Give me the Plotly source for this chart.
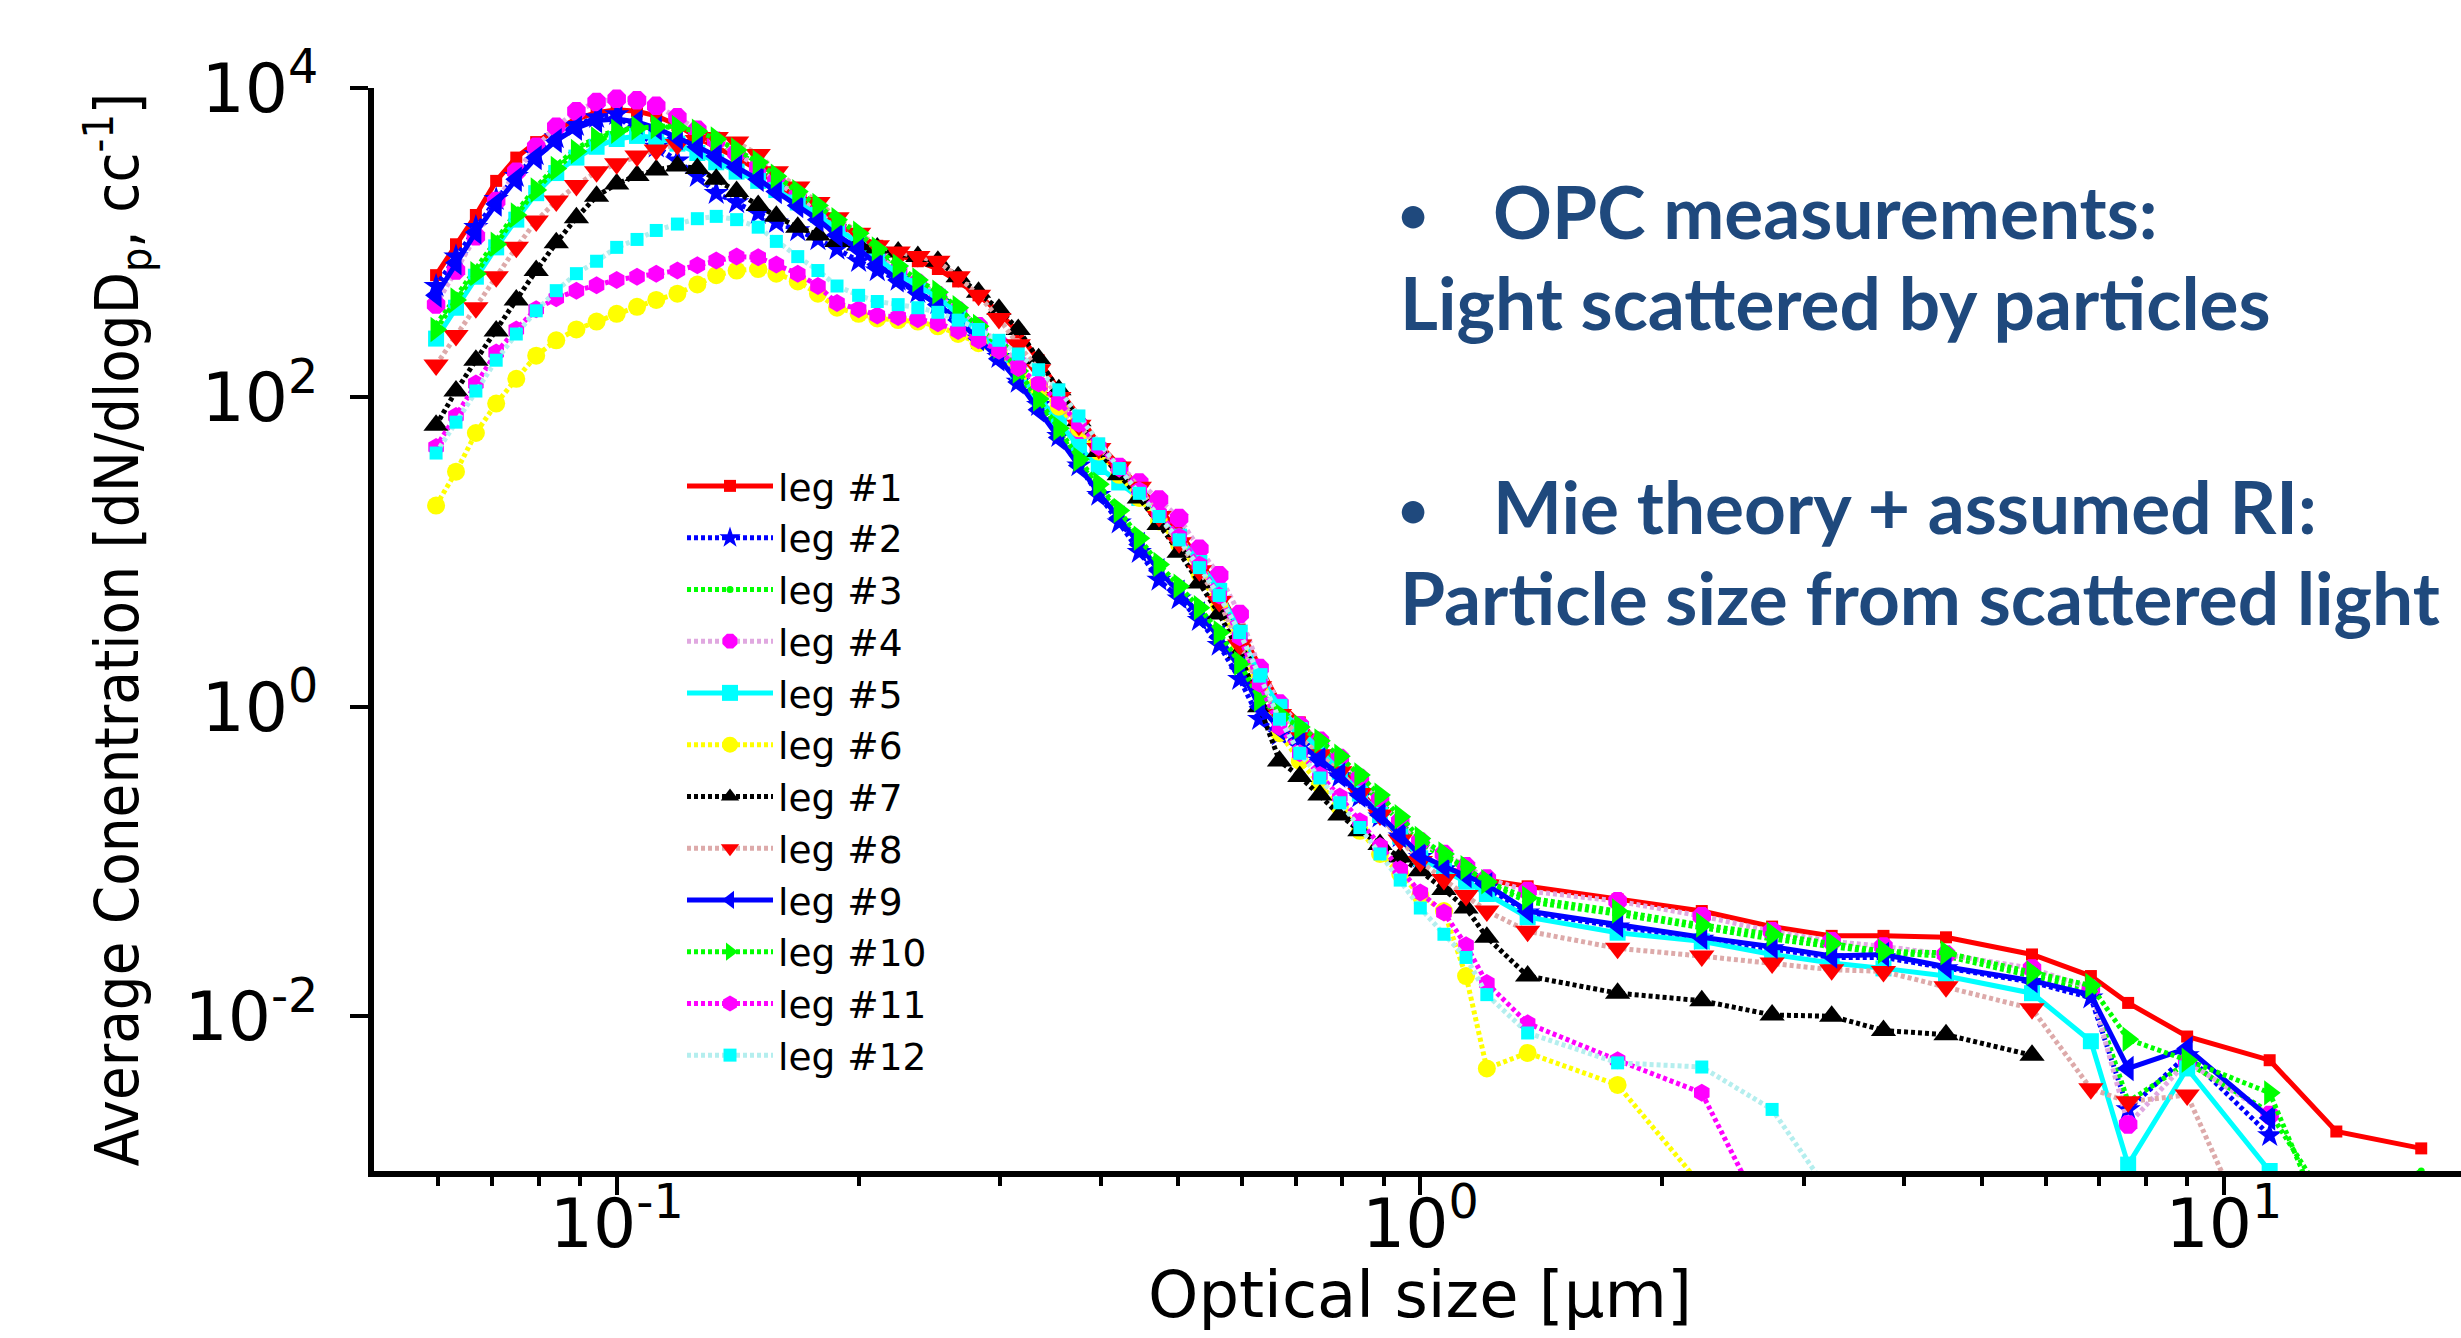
import plotly.graph_objects as go

# ---------------- data ----------------
size_um = [0.0596, 0.0631, 0.0668, 0.0708, 0.0750, 0.0794, 0.0841, 0.0891, 0.0944, 0.100,
           0.106, 0.112, 0.119, 0.126, 0.133, 0.141, 0.150, 0.158, 0.168, 0.178,
           0.188, 0.200, 0.211, 0.224, 0.237, 0.251, 0.266, 0.282, 0.299, 0.316,
           0.335, 0.355, 0.376, 0.398, 0.422, 0.447, 0.473, 0.501, 0.531, 0.562,
           0.596, 0.631, 0.668, 0.708, 0.750, 0.794, 0.841, 0.891, 0.944, 1.000,
           1.07, 1.14, 1.21, 1.36, 1.76, 2.24, 2.74, 3.25, 3.77, 4.51,
           5.77, 6.83, 7.60, 9.00, 11.4, 13.8, 17.6]

leg1 = [617, 977, 1510, 2510, 3550, 4470, 5370, 6310, 6920, 7240,
        7080, 6610, 5750, 4790, 4170, 3550, 2950, 2400, 1950, 1580,
        1320, 1100, 955, 832, 759, 676, 562, 457, 355, 263,
        174, 112, 75.9, 50.1, 36.3, 26.3, 19.1, 13.5, 8.91, 5.62,
        3.16, 1.78, 1.05, 0.794, 0.575, 0.417, 0.288, 0.200, 0.141, 0.105,
        0.0912, 0.0832, 0.0759, 0.0692, 0.0569, 0.0479, 0.0380, 0.0331, 0.0331, 0.0324,
        0.0251, 0.0182, 0.0122, 0.0074, 0.0052, 0.0018, 0.0014]

leg2 = [525, 813, 1260, 1910, 2690, 3720, 4790, 5750, 6460, 6760,
        5250, 4170, 3390, 2690, 2090, 1820, 1550, 1350, 1200, 1050,
        912, 759, 661, 575, 479, 407, 316, 240, 182, 126,
        89.1, 56.2, 36.3, 23.4, 15.5, 10.0, 6.61, 5.01, 3.63, 2.51,
        1.51, 0.832, 0.661, 0.550, 0.447, 0.355, 0.263, 0.195, 0.145, 0.107,
        0.0891, 0.0794, 0.0676, 0.0468, 0.0380, 0.0316, 0.0275, 0.0240, 0.0240, 0.0204,
        0.0166, 0.0132, 0.0025, 0.0056, 0.0017, None, None]

leg3 = [295, 447, 661, 1020, 1580, 2290, 3160, 4070, 4790, 5370,
        5560, 5690, 5620, 5250, 4570, 3800, 3240, 2570, 2040, 1660,
        1380, 1120, 871, 661, 550, 468, 380, 282, 209, 141,
        93.3, 60.3, 38.0, 26.3, 17.4, 11.5, 7.59, 5.50, 3.98, 2.82,
        1.78, 1.05, 0.832, 0.692, 0.550, 0.437, 0.331, 0.245, 0.178, 0.132,
        0.107, 0.0891, 0.0724, 0.0550, 0.0457, 0.0372, 0.0316, 0.0282, 0.0257, 0.0245,
        0.0182, 0.0148, 0.0028, 0.0050, 0.0024, 0.0005, 0.0010]

leg4 = [398, 661, 1100, 1860, 2880, 4170, 5620, 7080, 8130, 8510,
        8320, 7670, 6460, 5370, 4570, 3800, 3090, 2510, 2000, 1580,
        1260, 1000, 813, 661, 550, 457, 363, 288, 224, 166,
        117, 83.2, 60.3, 44.7, 35.5, 28.2, 21.9, 16.6, 10.5, 7.08,
        3.98, 1.78, 1.05, 0.759, 0.603, 0.468, 0.347, 0.251, 0.182, 0.135,
        0.112, 0.0933, 0.0776, 0.0646, 0.0555, 0.0444, 0.0355, 0.0305, 0.0283, 0.0251,
        0.0204, 0.0151, 0.0020, 0.0051, 0.0023, None, None]

leg5 = [240, 380, 603, 933, 1410, 2090, 2820, 3550, 4170, 4680,
        4900, 4790, 4370, 3800, 3310, 2880, 2510, 2190, 1820, 1510,
        1230, 1000, 794, 631, 525, 447, 347, 263, 200, 145,
        100, 69.2, 47.9, 35.5, 28.2, 22.4, 16.6, 12.6, 8.51, 5.62,
        3.02, 1.58, 1.00, 0.708, 0.525, 0.380, 0.275, 0.200, 0.145, 0.105,
        0.0871, 0.0741, 0.0617, 0.0437, 0.0347, 0.0305, 0.0251, 0.0221, 0.0204, 0.0182,
        0.0141, 0.0069, 0.0011, 0.0046, 0.0010, None, None]

leg6 = [20.0, 33.1, 58.9, 91.2, 132, 186, 234, 275, 309, 347,
        385, 427, 468, 537, 617, 661, 676, 631, 562, 468,
        380, 347, 324, 316, 309, 288, 257, 224, 191, 148,
        115, 87.1, 63.1, 44.7, 31.6, 22.4, 15.8, 11.2, 7.24, 4.47,
        2.40, 1.26, 0.676, 0.447, 0.316, 0.224, 0.158, 0.112, 0.0832, 0.0603,
        0.0479, 0.0182, 0.0046, 0.0058, 0.0036, 0.0008, None, None, None, None,
        None, None, None, None, None, None, None]

leg7 = [66.1, 110, 174, 269, 427, 661, 1000, 1450, 2000, 2400,
        2720, 2950, 3130, 3020, 2570, 2140, 1740, 1480, 1260, 1120,
        1020, 966, 923, 871, 813, 759, 603, 479, 372, 275,
        178, 112, 70.8, 44.7, 31.6, 22.4, 15.1, 10.0, 6.31, 3.98,
        2.24, 1.00, 0.447, 0.355, 0.269, 0.200, 0.158, 0.129, 0.107, 0.0871,
        0.0661, 0.0501, 0.0324, 0.0182, 0.0141, 0.0126, 0.0102, 0.0100, 0.0081, 0.0076,
        0.0056, None, None, None, None, None, None]

leg8 = [162, 251, 380, 603, 933, 1380, 1860, 2340, 2880, 3240,
        3630, 3980, 4320, 4570, 4790, 4470, 3720, 2880, 2290, 1820,
        1450, 1150, 955, 871, 813, 759, 603, 457, 324, 219,
        151, 100, 66.1, 46.8, 35.5, 26.3, 17.0, 11.5, 7.59, 4.79,
        2.51, 1.35, 0.891, 0.631, 0.490, 0.380, 0.275, 0.200, 0.138, 0.100,
        0.0766, 0.0603, 0.0479, 0.0355, 0.0275, 0.0245, 0.0221, 0.0200, 0.0195, 0.0155,
        0.0112, 0.0034, 0.0028, 0.0031, 0.0002, None, None]

leg9 = [457, 741, 1170, 1780, 2570, 3550, 4570, 5500, 6170, 6310,
        6030, 5500, 4790, 4170, 3630, 3090, 2570, 2140, 1740, 1410,
        1120, 912, 724, 575, 479, 398, 316, 240, 178, 126,
        83.2, 55.0, 36.3, 24.0, 16.6, 11.2, 7.59, 5.50, 3.98, 2.82,
        1.78, 1.00, 0.724, 0.575, 0.457, 0.363, 0.269, 0.200, 0.148, 0.110,
        0.0933, 0.0813, 0.0708, 0.0479, 0.0389, 0.0324, 0.0282, 0.0245, 0.0251, 0.0209,
        0.0170, 0.0138, 0.0046, 0.0062, 0.0022, None, None]

leg10 = [275, 427, 631, 977, 1510, 2190, 3020, 3890, 4680, 5250,
         5500, 5620, 5560, 5250, 4680, 3980, 3310, 2690, 2140, 1740,
         1410, 1150, 912, 708, 575, 479, 380, 288, 214, 148,
         97.7, 63.1, 39.8, 27.5, 18.6, 12.3, 8.32, 6.03, 4.37, 3.02,
         1.91, 1.12, 0.891, 0.741, 0.603, 0.479, 0.363, 0.269, 0.195, 0.141,
         0.112, 0.0912, 0.0741, 0.0582, 0.0479, 0.0389, 0.0339, 0.0295, 0.0263, 0.0257,
         0.0191, 0.0158, 0.0071, 0.0052, 0.0032, 0.0003, None]

leg11 = [47.9, 75.9, 123, 195, 275, 372, 437, 490, 531, 575,
         603, 631, 661, 716, 767, 813, 804, 724, 631, 525,
         407, 372, 339, 331, 320, 302, 269, 234, 200, 155,
         123, 93.3, 67.6, 47.9, 34.7, 25.1, 17.8, 12.6, 8.32, 5.25,
         2.82, 1.41, 0.741, 0.501, 0.363, 0.263, 0.182, 0.126, 0.0891, 0.0631,
         0.0468, 0.0288, 0.0164, 0.0090, 0.0052, 0.0032, 0.0004, None, None, None,
         None, None, None, None, None, None, None]

leg12 = [43.7, 69.2, 110, 174, 257, 363, 490, 631, 759, 933,
         1050, 1200, 1320, 1430, 1480, 1410, 1260, 1020, 813, 661,
         525, 457, 417, 398, 380, 355, 316, 275, 234, 191,
         151, 112, 75.9, 50.1, 34.7, 24.0, 17.0, 12.0, 7.94, 5.25,
         3.02, 1.58, 0.832, 0.501, 0.347, 0.240, 0.166, 0.112, 0.0759, 0.0501,
         0.0339, 0.0240, 0.0138, 0.0078, 0.0050, 0.0047, 0.0025, 0.00069, None, None,
         None, None, None, None, None, None, None]

series_names = ["leg #1", "leg #2", "leg #3", "leg #4", "leg #5", "leg #6",
                "leg #7", "leg #8", "leg #9", "leg #10", "leg #11", "leg #12"]
series_values = [leg1, leg2, leg3, leg4, leg5, leg6, leg7, leg8, leg9, leg10, leg11, leg12]

x_tick_values = [0.1, 1, 10]
x_tick_labels = ["10<sup>-1</sup>", "10<sup>0</sup>", "10<sup>1</sup>"]
x_minor_values = [0.06, 0.07, 0.08, 0.09, 0.2, 0.3, 0.4, 0.5, 0.6, 0.7, 0.8, 0.9,
                  2, 3, 4, 5, 6, 7, 8, 9]
y_tick_values = [0.01, 1, 100, 10000]
y_tick_labels = ["10<sup>-2</sup>", "10<sup>0</sup>", "10<sup>2</sup>", "10<sup>4</sup>"]

note_lines = ["OPC measurements:", "Light scattered by particles",
              "Mie theory + assumed RI:", "Particle size from scattered light"]

# ---------------- styles ----------------
line_colors = ["#FF0000", "#0000FF", "#00FF00", "#E0A8E0", "#00FFFF", "#FFFF00",
               "#000000", "#DDAAAA", "#0000FF", "#00FF00", "#FF00FF", "#B4EEEE"]
line_dash = ["solid", "4px,3px", "4px,3px", "4px,3px", "solid", "4px,3px",
             "4px,3px", "4px,3px", "solid", "4px,3px", "4px,3px", "4px,3px"]
marker_colors = ["#FF0000", "#0000FF", "#00FF00", "#FF00FF", "#00FFFF", "#FFFF00",
                 "#000000", "#FF0000", "#0000FF", "#00FF00", "#FF00FF", "#00FFFF"]
marker_symbols = ["square", "star", "circle", "octagon", "square", "circle",
                  "triangle-up", "triangle-down", "triangle-left", "triangle-right",
                  "hexagon", "square"]
marker_sizes = [12, 19, 7, 20, 16, 18, 22, 22, 22, 22, 18, 13]

for v in series_values:
    assert len(v) == len(size_um), len(v)

fig = go.Figure()
for i, (name, vals) in enumerate(zip(series_names, series_values)):
    fig.add_trace(go.Scatter(
        x=size_um, y=vals, name=name, mode="lines+markers",
        line=dict(color=line_colors[i], width=5, dash=line_dash[i]),
        marker=dict(symbol=marker_symbols[i], size=marker_sizes[i],
                    color=marker_colors[i], line=dict(width=0)),
    ))

W, H = 2461, 1338
L, R, T, B = 374, 0, 88, 167
pw, ph = W - L - R, H - T - B

def px(xpix):
    return (xpix - L) / pw

def py(ypix):
    return (H - B - ypix) / ph

tick_font = dict(family="DejaVu Sans", size=68, color="black")

fig.update_layout(
    width=W, height=H,
    margin=dict(l=L, r=R, t=T, b=B, pad=0),
    paper_bgcolor="white", plot_bgcolor="white",
    showlegend=True,
    legend=dict(x=px(682), y=py(455), xanchor="left", yanchor="top",
                bgcolor="rgba(0,0,0,0)", borderwidth=0,
                font=dict(family="DejaVu Sans", size=37.5, color="black"),
                itemwidth=86, tracegroupgap=0),
    xaxis=dict(type="log", range=[-1.302, 1.295], showgrid=False, zeroline=False,
               showline=True, linecolor="black", linewidth=6, mirror=False,
               tickvals=x_tick_values, ticktext=x_tick_labels,
               ticks="outside", ticklen=18, tickwidth=4, tickcolor="black",
               tickfont=tick_font, ticklabelstandoff=-30,
               minor=dict(tickvals=x_minor_values, ticks="outside", ticklen=9,
                          tickwidth=4, tickcolor="black", showgrid=False)),
    yaxis=dict(type="log", range=[-3, 4], showgrid=False, zeroline=False,
               showline=True, linecolor="black", linewidth=6, mirror=False,
               tickvals=y_tick_values, ticktext=y_tick_labels,
               ticks="outside", ticklen=18, tickwidth=4, tickcolor="black",
               tickfont=tick_font, ticklabelstandoff=18),
)

# axis titles
fig.add_annotation(text="Optical size [\u03bcm]", xref="paper", yref="paper",
                   x=px(1420), y=py(1295), xanchor="center", yanchor="middle",
                   showarrow=False,
                   font=dict(family="DejaVu Sans", size=64, color="black"))
fig.add_annotation(text="Average Conentration [dN/dlogD<sub>p</sub>, cc<sup>-1</sup>]",
                   xref="paper", yref="paper", x=px(116), y=0.5,
                   xanchor="center", yanchor="middle", textangle=-90,
                   showarrow=False,
                   font=dict(family="DejaVu Sans Condensed, DejaVu Sans", size=61,
                             color="black"))

# explanatory text
note_font = dict(family="Lato", size=73, color="#1F497D")
note_pos = [(1491, 211), (1398, 302), (1491, 506), (1398, 597)]
for txt, (xx, yy) in zip(note_lines, note_pos):
    fig.add_annotation(text="<b>" + txt + "</b>", xref="paper", yref="paper",
                       x=px(xx), y=py(yy), xanchor="left", yanchor="middle",
                       showarrow=False, font=note_font)
for yy in (213, 508):
    fig.add_annotation(text="<b>\u2022</b>", xref="paper", yref="paper",
                       x=px(1396), y=py(yy), xanchor="left", yanchor="middle",
                       showarrow=False, font=dict(family="Lato", size=52, color="#1F497D"))

fig.write_html("out.html", config={"displayModeBar": False},
               post_script="document.body.style.margin='0';")
